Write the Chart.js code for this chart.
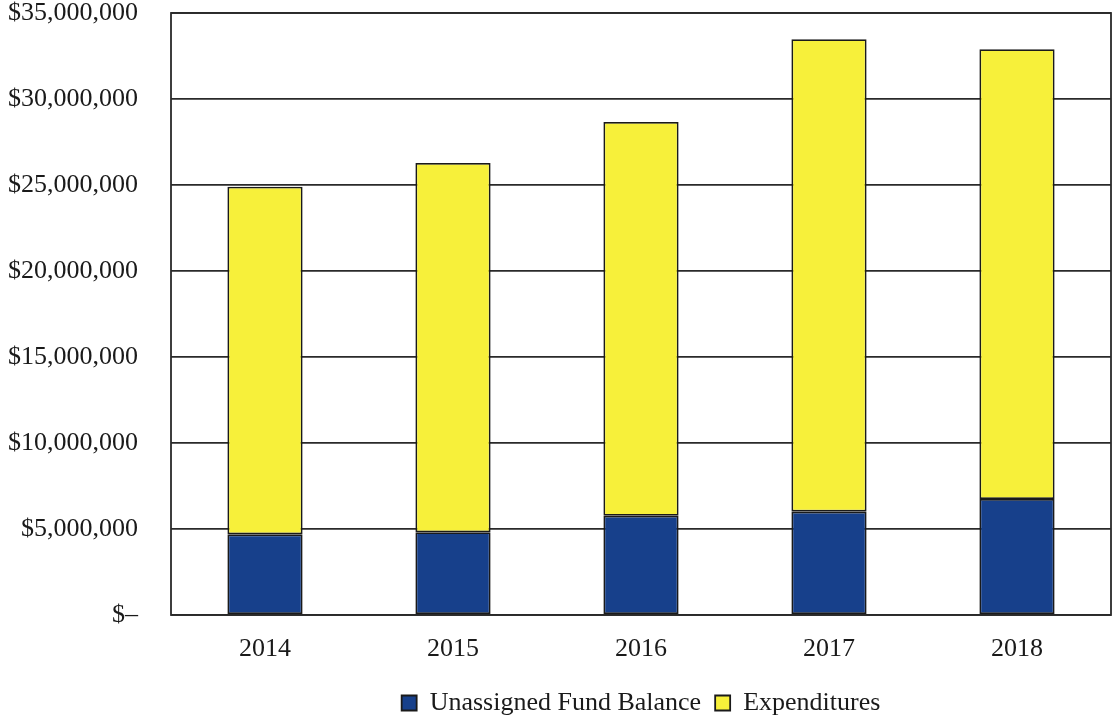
<!DOCTYPE html>
<html>
<head>
<meta charset="utf-8">
<script src="https://cdn.jsdelivr.net/npm/chart.js@4"></script>
<style>
  html, body { margin: 0; padding: 0; background: #fff; }
</style>
</head>
<body>
<canvas id="barChart" width="1113" height="717"></canvas>
<script>
// data
var years = ['2014', '2015', '2016', '2017', '2018'];
var fundBalance = [4690000, 4810000, 5770000, 6010000, 6740000];
var expenditures = [20210000, 21470000, 22890000, 27460000, 26150000];
var yTicks = [0, 5000000, 10000000, 15000000, 20000000, 25000000, 30000000, 35000000];

document.addEventListener("DOMContentLoaded", function() {
    // frame around the plot area
    var frame = {
        id: 'frame',
        afterDraw: function(chart) {
            var a = chart.chartArea, ctx = chart.ctx;
            ctx.save();
            ctx.strokeStyle = '#2a2a2a';
            ctx.lineWidth = 1.8;
            ctx.strokeRect(a.left, a.top, a.right - a.left, a.bottom - a.top);
            ctx.restore();
        }
    };

    var serif = 'Liberation Serif';

    new Chart(document.getElementById('barChart'), {
        type: 'bar',
        data: {
            labels: years,
            datasets: [{
                label: 'Unassigned Fund Balance',
                data: fundBalance,
                backgroundColor: '#17408b',
                borderColor: '#1a1a1a',
                borderWidth: 1.8,
                borderSkipped: false
            }, {
                label: 'Expenditures',
                data: expenditures,
                backgroundColor: '#f7f03a',
                borderColor: '#1a1a1a',
                borderWidth: 1.8,
                borderSkipped: false
            }]
        },
        options: {
            responsive: false,
            animation: false,
            layout: { padding: { top: 13, right: 2, left: 0, bottom: -9 } },
            datasets: { bar: { barPercentage: 0.4, categoryPercentage: 1 } },
            scales: {
                x: {
                    stacked: true,
                    grid: { display: false, drawTicks: false },
                    border: { display: false },
                    afterFit: function(scale) {
                        scale.height = 61;
                        scale.paddingLeft = 0;
                        scale.paddingRight = 0;
                    },
                    ticks: { color: '#1a1a1a', font: { family: serif, size: 26 }, padding: 19 }
                },
                y: {
                    stacked: true,
                    min: 0,
                    max: 35000000,
                    afterBuildTicks: function(scale) {
                        scale.ticks = yTicks.map(function(v) { return { value: v }; });
                    },
                    afterFit: function(scale) {
                        scale.width = 171;
                        scale.paddingTop = 0;
                        scale.paddingBottom = 0;
                    },
                    grid: { color: '#2a2a2a', lineWidth: 1.8, tickLength: 0 },
                    border: { display: false },
                    ticks: {
                        color: '#1a1a1a',
                        font: { family: serif, size: 26 },
                        padding: 33,
                        callback: function(v) {
                            if (v === 0) return '$\u2013';
                            return '$' + v.toLocaleString('en-US');
                        }
                    }
                }
            },
            plugins: {
                legend: {
                    position: 'bottom',
                    fullSize: false,
                    labels: {
                        color: '#1a1a1a',
                        font: { family: serif, size: 26 },
                        boxWidth: 15,
                        boxHeight: 15,
                        padding: 14
                    }
                },
                tooltip: { enabled: false }
            }
        },
        plugins: [frame]
    });
});
</script>
</body>
</html>
